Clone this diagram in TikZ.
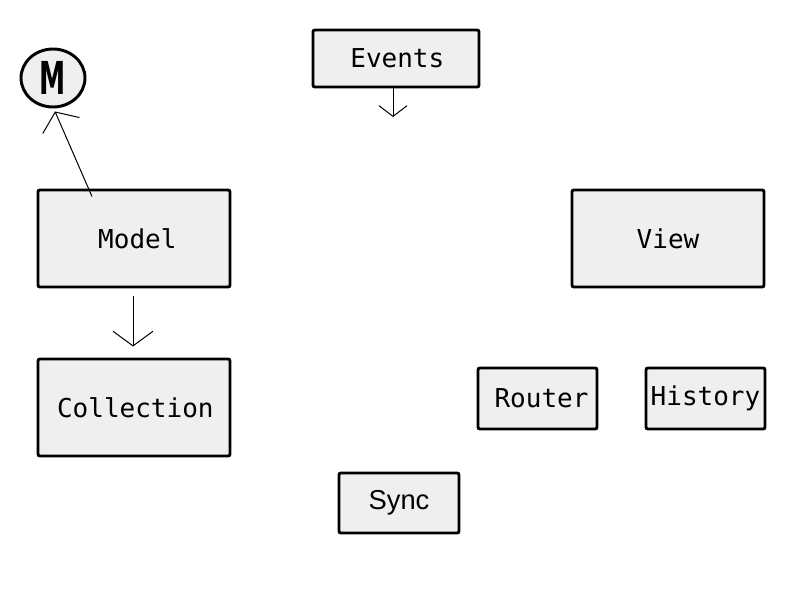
\documentclass[tikz,border=0pt]{standalone}
\usepackage{fontspec}
\usetikzlibrary{arrows.meta,shapes.geometric}
\newfontfamily\monof{DejaVu Sans Mono}
\newfontfamily\sansf{Liberation Sans}
\newfontfamily\boldf{DejaVu Sans Bold}
\definecolor{boxfill}{HTML}{EFEFEF}
\tikzset{
  box/.style={draw=black, line width=2.2pt, fill=boxfill, rounded corners=1.5pt,
    inner sep=0pt, font=\monof\fontsize{19.5}{22}\selectfont},
  circ/.style={ellipse, draw=black, line width=2.2pt, fill=boxfill, inner sep=0pt,
    minimum width=48pt, minimum height=43.5pt},
  arr/.style={line width=0.75pt, -{Straight Barb[length=11pt,width=30pt,line width=0.75pt]}},
  arrsmall/.style={line width=0.75pt, -{Straight Barb[length=8pt,width=21pt,line width=0.75pt]}},
}
\begin{document}
\begin{tikzpicture}[x=0.75pt,y=-0.75pt]
\useasboundingbox (0,0) rectangle (800,600);
\node[circ] (M) at (53,78) {\boldf\fontsize{34}{36}\selectfont\scalebox{0.58}[1]{M}};
\node[box, minimum width=124.5pt, minimum height=42.75pt] (events) at (396,58.5) {\hspace{2pt}Events};
\node[box, minimum width=144pt, minimum height=72.75pt] (model) at (134,238.5) {\hspace{5pt}Model};
\node[box, minimum width=144pt, minimum height=72.75pt] (collection) at (134,407.5) {\hspace{2pt}Collection};
\node[box, minimum width=144pt, minimum height=72.75pt] (view) at (668,238.5) {View};
\node[box, minimum width=89.25pt, minimum height=45.75pt] (router) at (537.5,398.5) {\hspace{6pt}Router};
\node[box, minimum width=89.25pt, minimum height=45.75pt] (history) at (705.5,398.5) {History};
\node[box, minimum width=90pt, minimum height=45pt, font=\sansf\fontsize{20.5}{22}\selectfont] (sync) at (399,503) {Sync};
\coordinate (evend) at (393,117);
\draw[arr] ([xshift=-31.5pt,yshift=-6pt]model.north) -- ([xshift=1.5pt,yshift=-2.25pt]M.south);
\draw[arrsmall] (events.south -| evend) -- (evend);
\draw[arr] ([xshift=-0.75pt,yshift=-6pt]model.south) -- ([xshift=-0.75pt,yshift=8.25pt]collection.north);
\end{tikzpicture}
\end{document}
